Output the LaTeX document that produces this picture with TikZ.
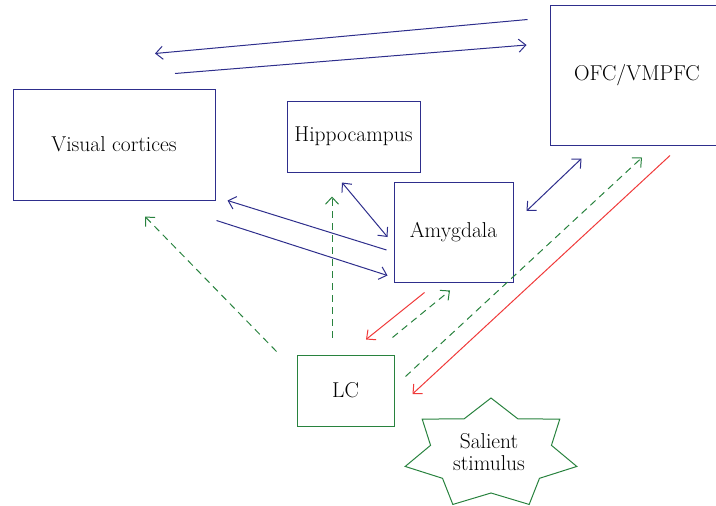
\documentclass[tikz,border=0pt]{standalone}
\usepackage{tikz}
\usetikzlibrary{arrows.meta}
\definecolor{navy}{RGB}{46,46,140}
\definecolor{leafgreen}{RGB}{40,130,62}
\definecolor{signalred}{RGB}{240,58,58}

\begin{document}
\begin{tikzpicture}[
		x=1pt,y=-1pt,
		BlueBox/.style={draw=navy,line width=1pt,inner sep=0pt},
		GreenBox/.style={draw=leafgreen,line width=1pt,inner sep=0pt},
		BlueArrow/.style={draw=navy,line width=1pt,-{Straight Barb[length=7pt,width=13pt]}},
		BlueBoth/.style={draw=navy,line width=1pt,{Straight Barb[length=7pt,width=13pt]}-{Straight Barb[length=7pt,width=13pt]}},
		GreenDashed/.style={draw=leafgreen,line width=1pt,dash pattern=on 7pt off 5pt,-{Straight Barb[length=7pt,width=13pt]}},
		RedArrow/.style={draw=signalred,line width=1pt,-{Straight Barb[length=7pt,width=13pt]}},
		StarLine/.style={draw=leafgreen,line width=1pt,line join=miter},
		every node/.style={font=\fontsize{21.5}{25}\selectfont,text=black}
		]
		\useasboundingbox (0,0) rectangle (716,506);
		\clip (0,0) rectangle (716,506);
		
		% boxes
		\node[BlueBox,minimum width=202,minimum height=111] (vis) at (114,144.5) {Visual cortices};
		\node[BlueBox,minimum width=133,minimum height=71] (hip) at (353.5,136.5) {Hippocampus};
		\node[BlueBox,minimum width=119,minimum height=100] (amy) at (453.5,232) {Amygdala};
		\node[BlueBox,minimum width=174,minimum height=140] (ofc) at (637,75) {OFC/VMPFC};
		\node[GreenBox,minimum width=97,minimum height=71] (lc) at (345.5,390.5) {LC};
		
		% salient stimulus
		\draw[StarLine,shift={(491,454)}] (90:88pt and 56pt)
			\foreach \i [evaluate=\i as \rx using {isodd(\i)?62:88},
			             evaluate=\i as \ry using {isodd(\i)?39:56}] in {1,...,13} {
				-- ({90-\i*180/7}:\rx pt and \ry pt) } -- cycle;
		\node[align=center,inner sep=0pt] (stim) at (489,452) {Salient\\[-3pt]stimulus};
		
		% cortical loops
		\draw[BlueArrow] ([shift={(-22,15)}]ofc.north west) -- ([shift={(41,-35)}]vis.north);
		\draw[BlueArrow] ([shift={(61,-15)}]vis.north) -- ([shift={(-23,-30)}]ofc.west);
		\draw[BlueArrow] ([shift={(-7,18)}]amy.west) -- ([shift={(12,0)}]vis.south east);
		\draw[BlueArrow] ([shift={(1,20)}]vis.south east) -- ([shift={(-6,-7)}]amy.south west);
		\draw[BlueBoth] ([shift={(-11.5,10)}]hip.south) -- ([shift={(-6,5)}]amy.west);
		\draw[BlueBoth] ([shift={(13,-21)}]amy.east) -- ([shift={(32,13)}]ofc.south west);
		
		% LC projections
		\draw[GreenDashed] ([shift={(11,22)}]lc.north east) -- ([shift={(5,12)}]ofc.south);
		\draw[GreenDashed] ([shift={(-2,-17)}]lc.north east) -- ([shift={(-3.5,8)}]amy.south);
		\draw[GreenDashed] ([shift={(-13.5,-17)}]lc.north) -- ([shift={(-21.5,24)}]hip.south);
		\draw[GreenDashed] ([shift={(-20,-3)}]lc.north west) -- ([shift={(31,16)}]vis.south);
		
		% inputs to LC
		\draw[RedArrow] ([shift={(33,10)}]ofc.south) -- ([shift={(18,3.5)}]lc.east);
		\draw[RedArrow] ([shift={(31,10)}]amy.south west) -- ([shift={(20.5,-15)}]lc.north);
		
		\end{tikzpicture}
\end{document}
